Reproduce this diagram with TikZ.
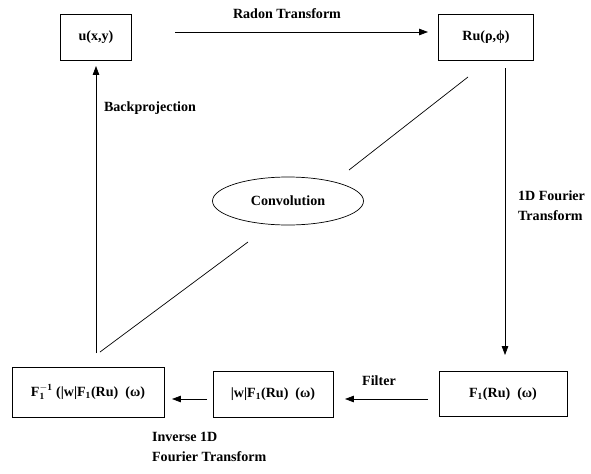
\documentclass[tikz,border=0pt]{standalone}
\usepackage{fontspec}
\setmainfont{Liberation Serif}
\usetikzlibrary{arrows.meta,shapes.geometric}

\newcommand{\Fone}{F$_{\mathbf{1}}$}
\newcommand{\Finv}{F$^{\mathbf{-1}}_{\mathbf{1}}$}

\begin{document}
\begin{tikzpicture}
  [x=0.03cm,y=-0.03cm,
   block/.style={rectangle,draw,semithick,inner sep=0pt,
     font=\fontsize{12}{14}\bfseries\selectfont},
   tag/.style={font=\fontsize{12}{17}\bfseries\selectfont,align=left},
   flow/.style={semithick,arrows={-Stealth[inset=0pt,angle=40:8pt]}}]
  \useasboundingbox (0,0) rectangle (591,473);

  \node[block,minimum width=71*0.03cm,minimum height=46*0.03cm] (u) at (96,37) {u(x,y)};
  \node[block,minimum width=95*0.03cm,minimum height=46*0.03cm] (ru) at (486,37) {Ru(ρ,ϕ)};
  \node[block,minimum width=128*0.03cm,minimum height=45*0.03cm] (f) at (503,394) {\Fone(Ru)\ \ (ω)};
  \node[block,minimum width=120*0.03cm,minimum height=46*0.03cm] (wf) at (273,394) {|w|\Fone(Ru)\ \ (ω)};
  \node[block,minimum width=152*0.03cm,minimum height=50*0.03cm] (inv) at (88,392) {\Finv\ (|w|\Fone(Ru)\ \ (ω)};
  \node[ellipse,draw,semithick,minimum width=151*0.03cm,minimum height=48*0.03cm,
    font=\fontsize{12}{14}\bfseries\selectfont] (conv) at (288,201) {Convolution};

  \node[tag] (radon) at (287,14) {Radon Transform};
  \node[tag,anchor=west] (fourier) at (514,206) {1D Fourier\\Transform};
  \node[tag] (filter) at (379,381) {Filter};
  \node[tag,anchor=north west] (inverse) at (148,428) {Inverse 1D\\Fourier Transform};
  \node[tag] (back) at (150,108) {Backprojection};

  % loose ends of the arrows and the convolution lines
  \coordinate (a1) at (175,32);  \coordinate (a2) at (428,32);
  \coordinate (b1) at (505,68);  \coordinate (b2) at (505,355);
  \coordinate (c1) at (428,399); \coordinate (c2) at (345,399);
  \coordinate (d1) at (207,399); \coordinate (d2) at (172,399);
  \coordinate (e1) at (96,353);  \coordinate (e2) at (96,66);
  \coordinate (g1) at (468,77);  \coordinate (g2) at (349,170);
  \coordinate (h1) at (248,242); \coordinate (h2) at (100,352);

  \foreach \from/\to in {a1/a2,b1/b2,c1/c2,d1/d2,e1/e2}
    \draw[flow] (\from) -- (\to);
  \draw[semithick] (g1) -- (g2);
  \draw[semithick] (h1) -- (h2);
\end{tikzpicture}
\end{document}
